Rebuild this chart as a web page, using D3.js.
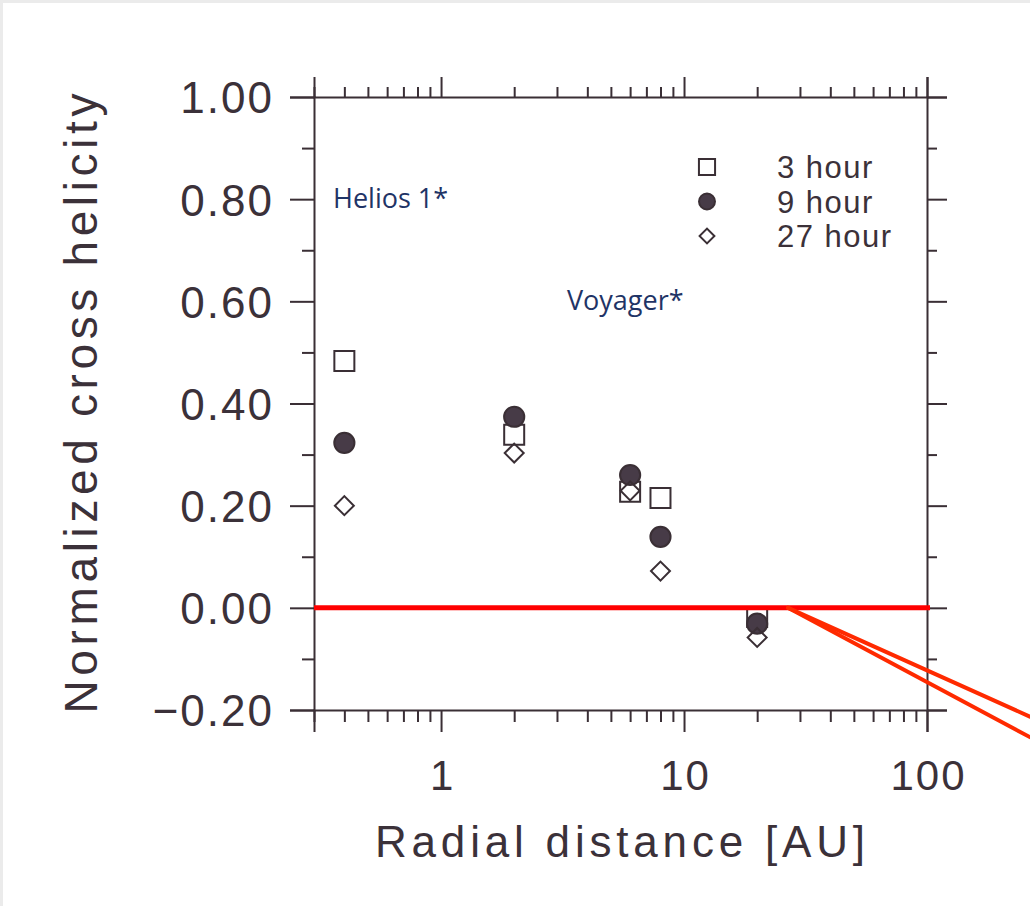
<!DOCTYPE html>
<html>
<head>
<meta charset="utf-8">
<script src="https://cdn.jsdelivr.net/npm/d3@7"></script>
<style>
  body { margin: 0; background: #fff; }
  .frame line, .frame path { stroke: #3a2f35; stroke-width: 2; }
  .tick text { fill: #3b3139; font-family: "Liberation Sans", Arial, sans-serif; }
  .note { fill: #1f3466; font-family: "Open Sans", sans-serif; }
</style>
</head>
<body>
<script>
// radial distances [AU] of the measurement groups
var distances = [0.4, 2, 6, 8, 20];
// normalized cross helicity for each averaging window
var hour3  = [0.483, 0.339, 0.227, 0.215, -0.018];
var hour9  = [0.323, 0.374, 0.260, 0.139, -0.031];
var hour27 = [0.200, 0.303, 0.229, 0.072, -0.058];
var seriesNames = ["3 hour", "9 hour", "27 hour"];
// tick labels
var yTicks = [-0.2, 0, 0.2, 0.4, 0.6, 0.8, 1.0];
var yMinor = [-0.1, 0.1, 0.3, 0.5, 0.7, 0.9];
var xTicks = [1, 10, 100];
// red annotation lines (data units)
var zeroLine = [0.3, 100];
var arrowStart = [26.8, 0];
var arrowEnds = [[265, -0.213], [265, -0.253]];

(function(){
  var width = 1030, height = 906;
  var left = 314, right = 927, top = 97, bottom = 710;
  var ink = "#3a2f35";

  var svg = d3.select("body").append("svg")
    .attr("width", width)
    .attr("height", height);

  // slide border
  svg.append("rect").attr("x", 0).attr("y", 0).attr("width", width).attr("height", 3).attr("fill", "#ebebeb");
  svg.append("rect").attr("x", 0).attr("y", 0).attr("width", 3).attr("height", height).attr("fill", "#ebebeb");

  var x = d3.scaleLog().domain([0.3, 100]).range([left, right]);
  var y = d3.scaleLinear().domain([-0.2, 1.0]).range([bottom, top]);

  var xMinor = x.ticks().filter(function(d){ return xTicks.indexOf(d) < 0; });

  // frame axes: major + minor ticks, outward on all four sides
  function frameAxis(axisFn, pos, majors, minors, majorLen, minorLen, fmt, fs){
    var g = svg.append("g").attr("class", "frame").attr("transform", pos);
    g.call(axisFn.tickValues(majors).tickSize(majorLen).tickPadding(16).tickFormat(fmt))
     .selectAll("text").style("font-size", fs + "px").style("letter-spacing", "2px");
    var g2 = svg.append("g").attr("class", "frame").attr("transform", pos);
    g2.call(axisFn.tickValues(minors).tickSize(minorLen).tickFormat(""));
    g2.select(".domain").remove();
    return g;
  }

  var yFmt = function(d){ return d3.format(".2f")(d); };
  var yAxisG = frameAxis(d3.axisLeft(y), "translate(" + left + ",0)", yTicks, yMinor, 24, 12, yFmt, 44);
  frameAxis(d3.axisRight(y), "translate(" + right + ",0)", yTicks, yMinor, 20, 10, "", 0);
  var xAxisG = frameAxis(d3.axisBottom(x), "translate(0," + bottom + ")", xTicks, xMinor, 22, 12, d3.format("d"), 42);
  frameAxis(d3.axisTop(x), "translate(0," + top + ")", xTicks, xMinor, 20, 10, "", 0);

  svg.selectAll(".domain").attr("stroke", ink).attr("stroke-width", 2);
  svg.selectAll(".frame .tick line").attr("stroke", ink).attr("stroke-width", 2);
  yAxisG.selectAll(".tick text").attr("dy", "0.36em");
  xAxisG.selectAll(".tick text").attr("y", 80).attr("dy", null).attr("dx", "1px");

  // axis titles
  svg.append("text")
    .attr("transform", "translate(97," + (top + bottom) / 2 + ") rotate(-90)")
    .attr("text-anchor", "middle")
    .attr("textLength", 620)
    .attr("lengthAdjust", "spacing")
    .style("font-family", "Liberation Sans, Arial, sans-serif")
    .style("font-size", "46px")
    .style("fill", "#3b3139")
    .text("Normalized cross helicity");

  svg.append("text")
    .attr("x", 620)
    .attr("y", 857)
    .attr("text-anchor", "middle")
    .attr("textLength", 490)
    .attr("lengthAdjust", "spacing")
    .style("font-family", "Liberation Sans, Arial, sans-serif")
    .style("font-size", "44px")
    .style("fill", "#3b3139")
    .text("Radial distance [AU]");

  // markers
  var sq = d3.symbol().type(d3.symbolSquare).size(400)();
  var circ = d3.symbol().type(d3.symbolCircle).size(320)();
  var dia = d3.symbol().type(d3.symbolSquare).size(180)();

  var series = [
    { name: seriesNames[0], values: hour3, path: sq, rot: 0, fill: "none" },
    { name: seriesNames[1], values: hour9, path: circ, rot: 0, fill: "#473b47" },
    { name: seriesNames[2], values: hour27, path: dia, rot: 45, fill: "none" }
  ];

  series.forEach(function(s){
    svg.selectAll(null)
      .data(s.values)
      .enter()
      .append("path")
      .attr("d", s.path)
      .attr("transform", function(d, i){
        return "translate(" + x(distances[i]) + "," + y(d) + ") rotate(" + s.rot + ")";
      })
      .attr("fill", s.fill)
      .attr("stroke", ink)
      .attr("stroke-width", 2);
  });

  // red zero line, drawn over the square at 20 AU
  svg.append("line")
    .attr("x1", x(zeroLine[0])).attr("x2", x(zeroLine[1]) + 3)
    .attr("y1", y(0)).attr("y2", y(0))
    .attr("stroke", "#ff0000").attr("stroke-width", 5);

  // arrow lines leaving the plot
  arrowEnds.forEach(function(e){
    svg.append("line")
      .attr("x1", x(arrowStart[0])).attr("y1", y(arrowStart[1]))
      .attr("x2", x(e[0])).attr("y2", y(e[1]))
      .attr("stroke", "#ff2a00").attr("stroke-width", 4)
      .attr("stroke-linecap", "round");
  });

  // legend
  var legend = svg.append("g").attr("transform", "translate(707,167)");
  var legendSymbols = [
    d3.symbol().type(d3.symbolSquare).size(260)(),
    d3.symbol().type(d3.symbolCircle).size(200)(),
    d3.symbol().type(d3.symbolSquare).size(110)()
  ];
  series.forEach(function(s, i){
    legend.append("path")
      .attr("d", legendSymbols[i])
      .attr("transform", "translate(0," + (i * 34.5) + ") rotate(" + s.rot + ")")
      .attr("fill", s.fill)
      .attr("stroke", ink)
      .attr("stroke-width", 2);
    legend.append("text")
      .attr("x", 70)
      .attr("y", i * 34.5 + 11)
      .style("font-family", "Liberation Sans, Arial, sans-serif")
      .style("font-size", "31px")
      .style("letter-spacing", "1.5px")
      .style("fill", "#3b3139")
      .text(s.name);
  });

  // mission notes
  svg.append("text").attr("class", "note")
    .attr("x", 333).attr("y", 208)
    .style("font-size", "27px")
    .text("Helios 1*");
  svg.append("text").attr("class", "note")
    .attr("x", 567).attr("y", 310)
    .style("font-size", "27px")
    .text("Voyager*");
})();
</script>
</body>
</html>
